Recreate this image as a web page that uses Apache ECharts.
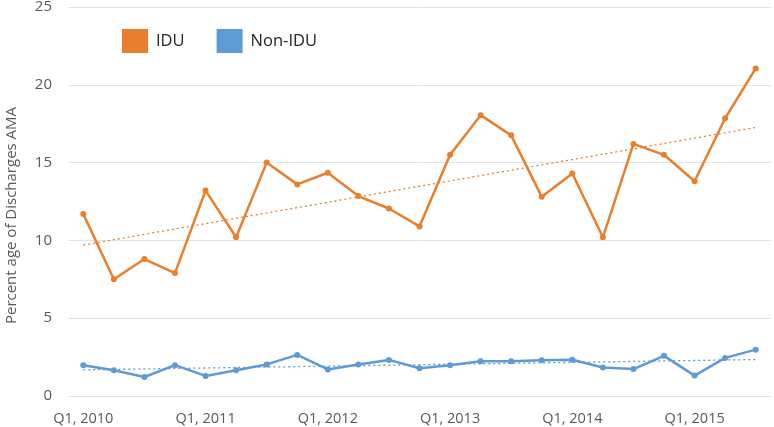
<!DOCTYPE html>
<html><head><meta charset="utf-8">
<script src="https://cdn.jsdelivr.net/npm/echarts@6/dist/echarts.min.js"></script>
<style>html,body{margin:0;padding:0;background:#fff}#c{width:774px;height:427px}</style>
</head><body><div id="c"></div>
<script>
const categories = ["Q1, 2010","Q2, 2010","Q3, 2010","Q4, 2010","Q1, 2011","Q2, 2011","Q3, 2011","Q4, 2011","Q1, 2012","Q2, 2012","Q3, 2012","Q4, 2012","Q1, 2013","Q2, 2013","Q3, 2013","Q4, 2013","Q1, 2014","Q2, 2014","Q3, 2014","Q4, 2014","Q1, 2015","Q2, 2015","Q3, 2015"];
const idu = [11.7,7.5,8.8,7.9,13.2,10.2,15.0,13.6,14.35,12.85,12.05,10.9,15.5,18.05,16.75,12.8,14.3,10.2,16.2,15.5,13.8,17.85,21.05];
const nonIdu = [1.98,1.65,1.22,1.98,1.29,1.65,2.03,2.64,1.71,2.03,2.32,1.78,1.97,2.24,2.24,2.3,2.33,1.83,1.73,2.58,1.31,2.45,2.98];
const yTicks = [0,5,10,15,20,25];

function trend(vals){
  const n = vals.length; let sx=0,sy=0,sxy=0,sxx=0;
  vals.forEach((v,i)=>{sx+=i;sy+=v;sxy+=i*v;sxx+=i*i;});
  const b=(n*sxy-sx*sy)/(n*sxx-sx*sx), a=(sy-b*sx)/n;
  return vals.map((v,i)=>+(a+b*i).toFixed(3));
}
const ORANGE='#E97F2C', BLUE='#5E9BD6';
const font='"Open Sans", "Liberation Sans", sans-serif';
const chart = echarts.init(document.getElementById('c'), null, {renderer:'canvas'});
chart.setOption({
  animation:false,
  grid:{left:68,right:3,top:7,bottom:31,containLabel:false,outerBoundsMode:'none'},
  legend:{data:['IDU','Non-IDU'],left:117,top:24,icon:'rect',itemWidth:26,itemHeight:24,itemGap:32,
    textStyle:{fontFamily:font,fontSize:16.5,color:'#262626',padding:[0,0,0,3]}},
  xAxis:{type:'category',data:categories,boundaryGap:true,
    axisLine:{show:false},axisTick:{show:false},
    axisLabel:{interval:3,fontFamily:font,fontSize:14.5,color:'#595959',margin:15}},
  yAxis:{type:'value',min:yTicks[0],max:yTicks[yTicks.length-1],interval:5,
    name:'Percent age of Discharges AMA',nameLocation:'middle',nameGap:49,
    nameTextStyle:{fontFamily:font,fontSize:15,color:'#595959',padding:[0,28,0,0]},
    axisLabel:{fontFamily:font,fontSize:15,color:'#595959',margin:16,align:'right'},
    splitLine:{lineStyle:{color:'#e3e3e3',width:1}},axisLine:{show:false},axisTick:{show:false}},
  series:[
    {name:'IDU',type:'line',data:idu,color:ORANGE,symbol:'circle',symbolSize:6,lineStyle:{width:2.5,color:ORANGE},itemStyle:{color:ORANGE}},
    {name:'Non-IDU',type:'line',data:nonIdu,color:BLUE,symbol:'circle',symbolSize:6,lineStyle:{width:2.5,color:BLUE},itemStyle:{color:BLUE}},
    {name:'IDU trend',type:'line',data:trend(idu),symbol:'none',lineStyle:{width:1.3,type:[2,3],color:ORANGE},z:1},
    {name:'Non-IDU trend',type:'line',data:trend(nonIdu),symbol:'none',lineStyle:{width:1.3,type:[2,3],color:BLUE},z:1}
  ]
});
</script></body></html>
